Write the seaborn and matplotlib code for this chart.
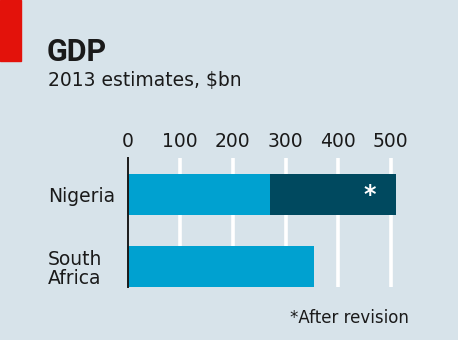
import matplotlib
matplotlib.use("Agg")
import matplotlib.pyplot as plt
import seaborn as sns
import pandas as pd
import numpy as np

countries = ["Nigeria", "South Africa"]
labels = ["Nigeria", "South\nAfrica"]
gdp_before = [270, 354]
gdp_after = [510, np.nan]
xticks = [0, 100, 200, 300, 400, 500]

BG = "#d7e3ea"
LIGHT = "#00a1d0"
DARK = "#00495f"
RED = "#e3120b"

sns.set_theme(style="white")
plt.rcParams['font.family'] = ['DejaVu Sans']

W, H = 458, 340
fig = plt.figure(figsize=(W / 100, H / 100), dpi=100, facecolor=BG)

x0, x1 = 127.7, 127.7 + 550 * 0.526
ytop, ybot = 158, 287
ax = fig.add_axes([x0 / W, 1 - ybot / H, (x1 - x0) / W, (ybot - ytop) / H])
ax.set_facecolor(BG)

df = pd.DataFrame({"country": countries, "before": gdp_before, "after": gdp_after})

sns.barplot(data=df, y="country", x="after", orient="h", color=DARK, width=0.57,
            saturation=1, ax=ax, zorder=3, linewidth=0)
sns.barplot(data=df, y="country", x="before", orient="h", color=LIGHT, width=0.57,
            saturation=1, ax=ax, zorder=4, linewidth=0)

ax.set_xlim(0, 550)
ax.set_ylim(1.285, -0.51)
ax.set_xticks(xticks)
ax.xaxis.tick_top()
ax.tick_params(axis="x", length=0, pad=5, labelsize=13.5, colors="#1a1a1a")
ax.set_yticks([0, 1])
ax.set_yticklabels(labels, ha="left", fontsize=13.5, color="#1a1a1a", linespacing=1.0)
ax.tick_params(axis="y", length=0, pad=57.5)
ax.set_xlabel("")
ax.set_ylabel("")
for s in ["top", "right", "bottom"]:
    ax.spines[s].set_visible(False)
ax.spines["left"].set_color("#1a1a1a")
ax.spines["left"].set_linewidth(1.4)
ax.spines["left"].set_zorder(6)

for t in xticks[1:]:
    ax.axvline(t, color="white", linewidth=2.6, zorder=1)

ax.text(460, 0, "*", color="white", fontsize=17, fontweight="bold",
        ha="center", va="center", zorder=7)

# red tab
fig.patches.append(matplotlib.patches.Rectangle((0, 1 - 61 / H), 21 / W, 61 / H,
                   transform=fig.transFigure, color=RED, zorder=10))

fig.text(47 / W, 1 - 61 / H, "GDP", fontsize=22, fontweight="bold", color="#1a1a1a",
         family=["Roboto", "DejaVu Sans"], ha="left", va="baseline")
fig.text(48 / W, 1 - 86 / H, "2013 estimates, $bn", fontsize=13.5, color="#1a1a1a",
         ha="left", va="baseline")
fig.text(409 / W, 1 - 323 / H, "*After revision", fontsize=12, color="#1a1a1a",
         ha="right", va="baseline")

fig.savefig("out.png", dpi=100, facecolor=BG)
